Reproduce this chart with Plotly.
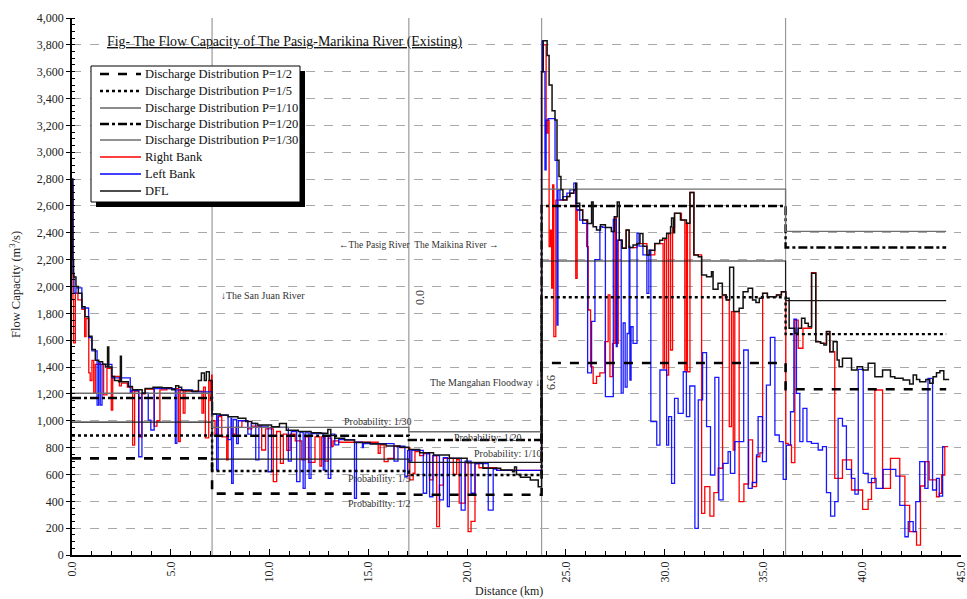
import plotly.graph_objects as go

# ---------------- data ----------------
# Section boundaries (km) and discharge distribution values (m3/s) per section
SEC_KM = [0.0, 7.09, 17.05, 23.77, 36.12]
SEC_END = 44.25
P2 = [720, 457, 449, 1430, 1235]
P5 = [890, 626, 596, 1920, 1645]
P10 = [990, 714, 690, 2190, 1895]
P20 = [1170, 888, 857, 2600, 2290]
P30 = [1205, 950, 918, 2725, 2410]

DFL_KM = [0.00, 0.03, 0.08, 0.20, 0.32, 0.50, 0.66, 0.84, 1.01, 1.18, 1.35, 1.55, 1.70, 1.80, 1.86,
          2.02, 2.15, 2.36, 2.45, 2.50, 2.85, 3.05, 3.55, 3.70, 4.10, 4.55, 5.05, 5.25, 5.40, 5.55,
          6.05, 6.40, 6.55, 6.70, 6.80, 6.95, 7.09, 7.50, 7.90, 8.40, 8.80, 9.10, 9.40, 10.10, 10.50,
          10.85, 11.45, 12.10, 12.60, 12.95, 13.10, 13.30, 13.80, 14.30, 15.10, 15.90, 16.60, 17.05,
          17.60, 18.30, 19.10, 20.00, 20.80, 21.70, 22.30, 22.40, 22.50, 22.70, 23.20, 23.60, 23.77,
          23.85, 24.05, 24.15, 24.30, 24.45, 24.55, 24.65, 24.75, 24.85, 25.05, 25.20, 25.40, 25.50,
          25.55, 25.70, 25.85, 26.10, 26.30, 26.38, 26.55, 26.75, 27.00, 27.30, 27.45, 27.60, 27.70,
          27.85, 28.05, 28.20, 28.40, 28.60, 28.75, 28.90, 29.10, 29.25, 29.50, 29.75, 29.90, 30.10,
          30.30, 30.35, 30.45, 30.50, 30.80, 31.10, 31.28, 31.48, 31.70, 31.87, 32.12, 32.37, 32.45,
          32.70, 32.92, 33.12, 33.29, 33.49, 33.77, 33.97, 34.22, 34.45, 34.62, 34.79, 34.96, 35.20,
          35.66, 35.91, 36.13, 36.30, 36.59, 36.76, 36.93, 37.10, 37.27, 37.44, 37.65, 37.89, 38.06,
          38.19, 38.36, 38.53, 38.73, 38.83, 39.00, 39.46, 39.74, 40.02, 40.30, 40.64, 41.03, 41.43,
          41.65, 42.07, 42.40, 42.58, 42.75, 42.91, 43.22, 43.42, 43.59, 43.76, 43.93, 44.13, 44.40]
DFL_Q = [2800, 2200, 2070, 2000, 1950, 1850, 1775, 1630, 1530, 1450, 1440, 1420, 1400, 1550, 1400,
         1330, 1300, 1290, 1480, 1290, 1255, 1230, 1205, 1240, 1250, 1245, 1230, 1260, 1250, 1225,
         1220, 1300, 1355, 1300, 1365, 1300, 1050, 1043, 1030, 1018, 995, 980, 968, 956, 980,
         930, 919, 911, 906, 935, 890, 870, 857, 838, 827, 812, 802, 785,
         762, 745, 720, 688, 646, 633, 620, 655, 600, 579, 559, 509, 3600,
         3830, 3720, 3500, 3310, 3240, 2940, 2820, 2720, 2645, 2670, 2695, 2720, 2770,
         2620, 2570, 2495, 2470, 2630, 2445, 2420, 2460, 2440, 2410, 2520, 2630, 2345,
         2285, 2420, 2290, 2310, 2320, 2395, 2300, 2235, 2270, 2320, 2345, 2360, 2395,
         2445, 2510, 2400, 2545, 2495, 2471, 2700, 2235, 2222, 2086, 2073, 2110, 1979,
         2024, 1937, 1900, 2143, 1813, 1838, 1961, 1987, 1900, 1880, 1912, 1949, 1924,
         1937, 1961, 1912, 1689, 1651, 1689, 1763, 1726, 1701, 2098, 1589, 1577, 1564,
         1664, 1514, 1589, 1452, 1402, 1465, 1378, 1402, 1378, 1428, 1328, 1378, 1328,
         1316, 1303, 1274, 1341, 1308, 1291, 1308, 1279, 1328, 1358, 1373, 1308, 1308]

RB_KM = [0.00, 0.05, 0.08, 0.17, 0.30, 0.50, 0.64, 0.71, 0.85, 0.92, 1.01, 1.10, 1.18, 1.60, 1.77,
         1.99, 2.06, 2.40, 2.50, 2.80, 3.07, 3.17, 3.38, 3.54, 3.70, 4.16, 4.30, 4.45, 4.80, 5.40,
         5.48, 5.63, 5.72, 6.58, 6.66, 6.75, 6.92, 7.00, 7.07, 7.09, 7.24, 7.40, 7.58, 7.83, 7.90,
         8.10, 8.30, 8.60, 8.90, 9.10, 9.60, 9.80, 10.19, 10.36, 10.55, 10.70, 10.87, 11.04, 11.30,
         11.63, 11.80, 11.97, 12.30, 12.55, 12.64, 12.80, 12.97, 13.14, 13.22, 13.50, 15.50, 15.60,
         15.80, 16.00, 16.30, 16.60, 17.10, 17.27, 17.36, 17.60, 17.80, 18.10, 18.27, 18.46, 18.60,
         18.80, 19.30, 19.47, 19.60, 19.90, 20.05, 20.20, 20.40, 20.60, 21.50, 23.77,
         23.85, 24.00, 24.08, 24.15, 24.22, 24.28, 24.33, 24.39, 24.49, 24.85, 25.05, 25.20, 25.40,
         25.50, 25.57, 25.85, 26.05, 26.13, 26.25, 26.38, 26.55, 26.72, 26.97, 27.14, 27.23, 27.36,
         27.48, 27.55, 27.65, 27.85, 28.05, 28.20, 28.60, 29.10, 29.50, 29.92, 30.00, 30.10, 30.20,
         30.30, 30.40, 30.50, 30.85, 31.02, 31.10, 31.15, 31.28, 31.48, 31.87, 32.03, 32.29, 32.49,
         32.71, 32.93, 33.12, 33.27, 33.38, 33.47, 33.55, 33.77, 34.01, 34.25, 34.45, 34.65, 34.82,
         34.96, 35.20, 35.66, 35.91, 36.13, 36.25, 36.42, 36.59, 36.76, 37.00, 37.43, 37.65, 37.89,
         38.19, 38.36, 38.61, 39.00, 39.46, 40.02, 40.30, 40.47, 40.64, 41.03, 41.43, 41.90, 42.16,
         42.40, 42.75, 42.95, 43.17, 43.39, 43.76, 43.90, 44.02, 44.18, 44.35]
RB_Q = [2750, 1900, 1580, 1950, 1900, 1830, 1626, 1760, 1356, 1300, 1450, 1206, 1420, 1192, 1390,
        1080, 1330, 1260, 1280, 1250, 819, 1220, 881, 1200, 1235, 960, 1000, 1230, 1240, 845,
        1230, 1057, 1220, 1057, 1250, 873, 1300, 1150, 1340, 1000, 900, 1030, 880, 708, 950,
        900, 950, 1000, 940, 960, 782, 940, 546, 920, 683, 900, 780, 900, 850,
        708, 880, 690, 880, 663, 880, 700, 870, 810, 850, 840, 758, 820,
        695, 720, 810, 800, 559, 609, 770, 740, 755, 560, 740, 211, 520,
        720, 600, 710, 387, 690, 174, 250, 680, 650, 630, 3600,
        3800, 3143, 3240, 2297, 2420, 1989, 2756, 1626, 2644, 2645, 2670, 2695, 2720,
        2061, 2570, 2495, 2297, 1825, 1402, 1279, 1330, 1356, 1589, 1937, 1328, 1577,
        2520, 1577, 2346, 2285, 2420, 2290, 2320, 2235, 2320, 1393, 2350, 1340, 2395,
        1527, 2440, 2545, 2495, 1378, 2471, 1365, 2700, 2235, 310, 509, 290, 464,
        646, 1937, 1900, 956, 1813, 782, 1813, 397, 529, 857, 509, 732, 760,
        1949, 1924, 1937, 1961, 832, 820, 688, 1750, 1540, 1689, 2103, 1589, 1577,
        1664, 1514, 571, 708, 484, 340, 415, 539, 1229, 497, 720, 588, 370,
        174, 74, 514, 695, 559, 434, 459, 596, 807, 807]

LB_KM = [0.00, 0.05, 0.10, 0.20, 0.50, 0.84, 1.01, 1.27, 1.35, 1.43, 1.52, 2.02, 2.95, 3.00, 3.38,
         3.54, 3.86, 3.99, 4.16, 5.23, 5.31, 6.10, 7.09, 7.32, 7.40, 7.90, 8.05, 8.08, 8.16, 8.33,
         8.42, 8.90, 9.07, 9.30, 9.46, 9.93, 10.10, 10.95, 11.10, 11.37, 11.54, 11.70, 11.80, 12.00,
         12.10, 12.72, 12.80, 12.97, 13.10, 13.30, 13.50, 14.30, 14.40, 14.70, 14.75, 16.30, 16.50,
         16.85, 16.99, 17.10, 17.20, 17.78, 17.95, 18.10, 18.27, 18.60, 18.80, 19.00, 19.10, 19.70,
         19.90, 20.20, 20.40, 21.07, 21.32, 21.50, 23.77,
         23.80, 23.85, 23.94, 24.00, 24.10, 24.45, 24.55, 24.60, 24.70, 24.85, 25.05, 25.20, 25.40,
         25.50, 25.55, 25.70, 25.85, 26.10, 26.30, 26.47, 26.72, 26.86, 27.00, 27.40, 27.55, 27.60,
         27.80, 27.90, 28.00, 28.10, 28.20, 28.24, 28.30, 28.40, 28.60, 28.70, 28.90, 29.10, 29.20,
         29.30, 29.60, 29.76, 30.10, 30.20, 30.35, 30.50, 30.68, 30.94, 31.10, 31.27, 31.53, 31.70,
         31.92, 32.12, 32.32, 32.54, 32.74, 32.96, 33.21, 33.33, 33.55, 34.00, 34.23, 34.43, 34.65,
         34.73, 34.95, 35.15, 35.35, 35.58, 35.80, 36.00, 36.16, 36.37, 36.54, 36.67, 36.84, 37.00,
         37.20, 37.43, 37.77, 37.99, 38.19, 38.40, 38.61, 38.78, 39.00, 39.20, 39.45, 39.63, 39.80,
         40.05, 40.30, 40.47, 40.70, 41.06, 41.70, 41.90, 42.16, 42.33, 42.58, 42.71, 42.91, 43.17,
         43.33, 43.56, 43.76, 43.90, 44.07, 44.18, 44.35]
LB_Q = [2800, 2100, 1950, 1990, 1840, 1620, 1520, 1117, 1430, 1117, 1420, 1320, 1206, 1225, 732,
        1205, 1005, 931, 1240, 832, 1230, 1215, 1050, 633, 1040, 860, 1020, 534, 1010, 830,
        1000, 900, 980, 708, 960, 620, 950, 700, 920, 546, 915, 497, 910, 571,
        905, 633, 890, 571, 900, 820, 860, 422, 840, 800, 830, 700, 810,
        583, 780, 700, 780, 460, 755, 434, 740, 410, 725, 360, 720, 335,
        700, 460, 680, 335, 640, 630, 3600,
        3830, 3600, 2868, 3240, 3250, 2940, 1713, 2720, 2645, 2670, 2695, 2720, 2770,
        2620, 2570, 2495, 2470, 1356, 1740, 2200, 2445, 2440, 1179, 2500, 1552,
        2345, 1206, 1728, 1250, 1650, 2300, 1303, 1700, 1577, 2396, 2300, 2235, 1949,
        2270, 993, 819, 1378, 819, 1030, 534, 1167, 1055, 1365, 1030, 1259, 199,
        1155, 1507, 956, 596, 1323, 410, 683, 770, 608, 844, 1527, 497, 540,
        745, 1030, 695, 1266, 1621, 894, 844, 564, 819, 1067, 1756, 1204, 844,
        1092, 844, 832, 782, 807, 464, 290, 397, 1018, 961, 638, 571, 454,
        1383, 608, 539, 571, 497, 638, 588, 370, 136, 248, 174, 397, 695,
        497, 1316, 484, 571, 439, 807, 807]

X_TICKS = [0, 5, 10, 15, 20, 25, 30, 35, 40, 45]
Y_MAX = 4000

FONT = "Liberation Serif, Times New Roman, serif"

# plot-area geometry (pixels) used only for placing texts/legend in paper coords
L, R, T, B = 72, 961, 18, 555
W, H = 967, 599


def px_x(p):
    return (p - L) / float(R - L)


def px_y(p):
    return (B - p) / float(B - T)


# ---------------- figure ----------------
fig = go.Figure()

DASH_STYLES = [
    ("Discharge Distribution P=1/2", P2, dict(color="black", width=2.6, dash="dash")),
    ("Discharge Distribution P=1/5", P5, dict(color="black", width=2.4, dash="dot")),
    ("Discharge Distribution P=1/10", P10, dict(color="#1a1a1a", width=1.2)),
    ("Discharge Distribution P=1/20", P20, dict(color="black", width=2.4, dash="dashdot")),
    ("Discharge Distribution P=1/30", P30, dict(color="#6e6e6e", width=1.3)),
]
RB_STYLE = dict(color="#ff0000", width=1.3)
LB_STYLE = dict(color="#0000ff", width=1.3)
DFL_STYLE = dict(color="#111111", width=1.5)

fig.add_trace(go.Scatter(x=RB_KM, y=RB_Q, mode="lines", name="Right Bank",
                         line=dict(shape="hv", **RB_STYLE)))
fig.add_trace(go.Scatter(x=LB_KM, y=LB_Q, mode="lines", name="Left Bank", opacity=0.9,
                         line=dict(shape="hv", **LB_STYLE)))

for name, vals, ln in DASH_STYLES:
    xs = SEC_KM + [SEC_END]
    ys = vals + [vals[-1]]
    fig.add_trace(go.Scatter(x=xs, y=ys, mode="lines", name=name, line=dict(shape="hv", **ln)))

fig.add_trace(go.Scatter(x=DFL_KM, y=DFL_Q, mode="lines", name="DFL",
                         line=dict(shape="hv", **DFL_STYLE)))

# section boundary lines
for k in SEC_KM[1:]:
    fig.add_shape(type="line", x0=k, x1=k, y0=0, y1=Y_MAX, xref="x", yref="y",
                  line=dict(color="#9a9a9a", width=1.2), layer="below")

# ---- custom legend box (shadow + box + samples + labels) ----
LEG_X0, LEG_X1, LEG_Y0, LEG_Y1 = 91, 300, 66, 202
fig.add_shape(type="rect", xref="paper", yref="paper",
              x0=px_x(LEG_X0 + 5), x1=px_x(LEG_X1 + 5), y0=px_y(LEG_Y1 + 5), y1=px_y(LEG_Y0 + 5),
              fillcolor="black", line=dict(width=0), layer="above")
fig.add_shape(type="rect", xref="paper", yref="paper",
              x0=px_x(LEG_X0), x1=px_x(LEG_X1), y0=px_y(LEG_Y1), y1=px_y(LEG_Y0),
              fillcolor="white", line=dict(color="black", width=1), layer="above")
legend_items = [(n, ln) for n, _, ln in DASH_STYLES] + [
    ("Right Bank", RB_STYLE), ("Left Bank", LB_STYLE), ("DFL", DFL_STYLE)]
LEG_ROWS = [74, 91, 108, 124, 140, 157, 174, 191]
for (name, ln), yrow in zip(legend_items, LEG_ROWS):
    fig.add_shape(type="line", xref="paper", yref="paper",
                  x0=px_x(100), x1=px_x(141), y0=px_y(yrow), y1=px_y(yrow),
                  line=ln, layer="above")
    fig.add_annotation(text=name, x=px_x(143), y=px_y(yrow), xref="paper", yref="paper",
                       showarrow=False, xanchor="left", yanchor="middle",
                       font=dict(family=FONT, size=12.5, color="#111111"))

annots = [
    ("<u>Fig- The Flow Capacity of The Pasig-Marikina River (Existing)</u>", 285, 42, 0, "center", 13.9, "#111111"),
    ("←The Pasig River  The Maikina River →", 418, 245, 0, "center", 9.5, "#333333"),
    ("↓The San Juan River", 219, 295, 0, "left", 10, "#333333"),
    ("0.0", 420, 298, -90, "center", 12, "#333333"),
    ("The Mangahan Floodway ↓", 485, 382, 0, "center", 10, "#333333"),
    ("6.6", 551, 383, -90, "center", 12, "#333333"),
    ("Probability: 1/30", 378, 421, 0, "center", 10, "#333333"),
    ("Probability: 1/20", 488, 437, 0, "center", 10, "#333333"),
    ("Probability: 1/10", 508, 453, 0, "center", 10, "#333333"),
    ("Probability: 1/5", 379, 478, 0, "center", 10, "#333333"),
    ("Probability: 1/2", 379, 503, 0, "center", 10, "#333333"),
    ("Flow Capacity (m<sup>3</sup>/s)", 15, 285, -90, "center", 12.5, "#222222"),
    ("Distance (km)", 509, 591, 0, "center", 12, "#222222"),
]
for text, px, py, ang, anchor, size, col in annots:
    fig.add_annotation(text=text, x=px_x(px), y=px_y(py), xref="paper", yref="paper",
                       showarrow=False, textangle=ang, xanchor=anchor, yanchor="middle",
                       font=dict(family=FONT, size=size, color=col))

fig.update_layout(
    width=W, height=H,
    margin=dict(l=L, r=W - R, t=T, b=H - B, autoexpand=False),
    paper_bgcolor="white", plot_bgcolor="white",
    font=dict(family=FONT, size=12, color="#222222"),
    showlegend=False,
)
fig.update_xaxes(range=[0, 45], tickvals=X_TICKS, tickformat=".1f", tickangle=-90,
                 ticks="inside", ticklen=6, tickcolor="black", automargin=False,
                 ticklabeloverflow="allow",
                 minor=dict(dtick=1, ticks="inside", ticklen=4, tickcolor="black"),
                 showline=True, linecolor="black", linewidth=1.5, showgrid=False, zeroline=False,
                 tickfont=dict(family=FONT, size=12, color="#222222"))
fig.update_yaxes(range=[0, Y_MAX], dtick=200, tickformat=",", ticks="outside", ticklen=4,
                 tickcolor="black", automargin=False, ticklabeloverflow="allow",
                 minor=dict(dtick=50, ticks="inside", ticklen=3, tickcolor="black", showgrid=False),
                 showline=True, linecolor="black", linewidth=1.5,
                 showgrid=True, gridcolor="#a8a8a8", griddash="dash", gridwidth=1, zeroline=False,
                 tickfont=dict(family=FONT, size=12, color="#222222"))

fig.write_html(
    "out.html",
    config={"displayModeBar": False},
    post_script="document.body.style.margin='0';document.body.style.padding='0';",
)
